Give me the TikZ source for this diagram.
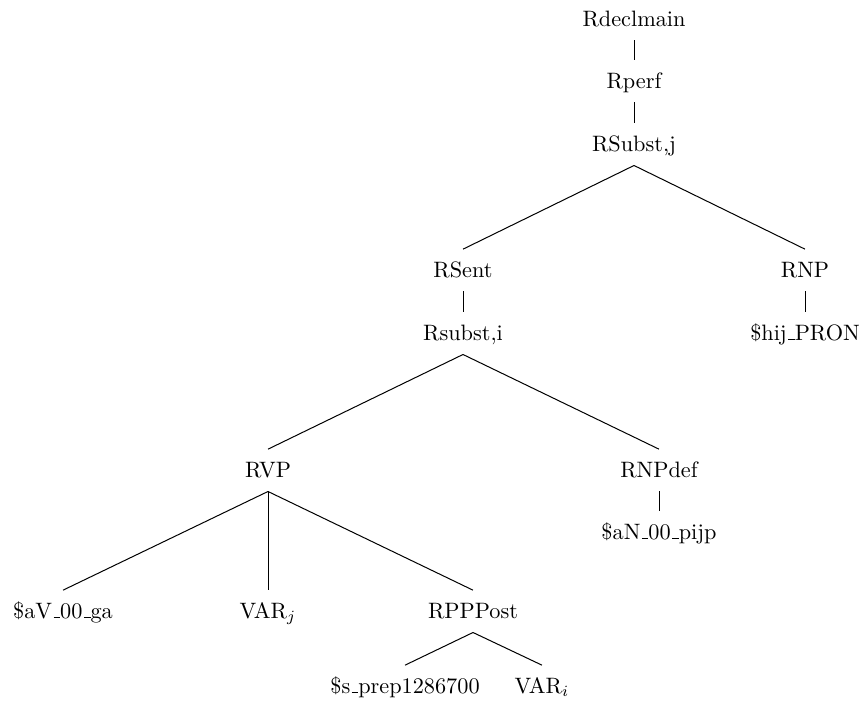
\documentclass[tikz,border=0pt]{standalone}
\newcommand\myus{\leavevmode\kern.06em\vbox{\hrule width.3em}}
\begin{document}
\begin{tikzpicture}[x=0.449pt,y=-0.449pt,
  lbl/.style={anchor=base,inner xsep=1pt,inner ysep=4.5pt,text height=8pt,text depth=2pt,outer sep=0pt,font=\fontsize{10}{12}\selectfont},
  edge/.style={draw=black,line width=0.45pt}]
\useasboundingbox (0,0) rectangle (859,700);
\node[lbl] (root) at (634,26) {Rdeclmain};
\node[lbl] (perf) at (634,88) {Rperf};
\node[lbl] (substj) at (634,151) {RSubst,j};
\node[lbl] (sent) at (463,277) {RSent};
\node[lbl] (rnp) at (805,277) {RNP};
\node[lbl] (substi) at (463,340) {Rsubst,i};
\node[lbl] (hij) at (805,340) {\$hij\myus PRON};
\node[lbl] (rvp) at (268,477) {RVP};
\node[lbl] (npdef) at (659,477) {RNPdef};
\node[lbl] (pijp) at (659,539) {\$aN\myus 00\myus pijp};
\node[lbl] (ga) at (63,618) {\$aV\myus 00\myus ga};
\node[lbl] (varj) at (268,618) {VAR$_j$};
\node[lbl] (ppp) at (473,618) {RPPPost};
\node[lbl] (prep) at (405,693) {\$s\myus prep1286700};
\node[lbl] (vari) at (542,693) {VAR$_i$};
\draw[edge] (root.south) -- (perf.north);
\draw[edge] (perf.south) -- (substj.north);
\draw[edge] (substj.south) -- (sent.north);
\draw[edge] (substj.south) -- (rnp.north);
\draw[edge] (sent.south) -- (substi.north);
\draw[edge] (rnp.south) -- (hij.north);
\draw[edge] (substi.south) -- (rvp.north);
\draw[edge] (substi.south) -- (npdef.north);
\draw[edge] (npdef.south) -- (pijp.north);
\draw[edge] (rvp.south) -- (ga.north);
\draw[edge] (rvp.south) -- (varj.north);
\draw[edge] (rvp.south) -- (ppp.north);
\draw[edge] (ppp.south) -- (prep.north);
\draw[edge] (ppp.south) -- (vari.north);
\end{tikzpicture}
\end{document}
